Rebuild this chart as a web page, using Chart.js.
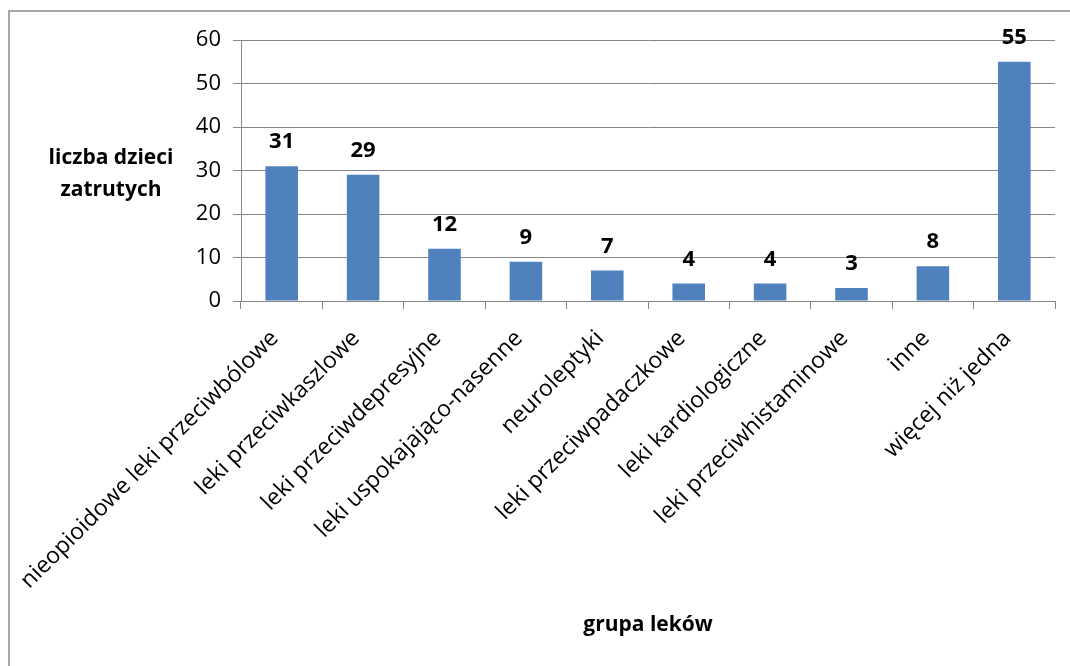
<!DOCTYPE html>
<html lang="pl">
<head>
<meta charset="utf-8">
<title>Zatrucia lekami u dzieci</title>
<script src="https://cdn.jsdelivr.net/npm/chart.js@4.4.1/dist/chart.umd.min.js"></script>
<style>
  html, body { margin: 0; padding: 0; background: #ffffff; }
  #wrap { position: relative; width: 1070px; height: 666px; overflow: hidden; }
  #frame { position: absolute; left: 8px; top: 10px; width: 1100px; height: 700px;
           border-left: 2px solid #a6a6a6; border-top: 2px solid #a6a6a6; box-sizing: border-box; }
  canvas { position: absolute; left: 0; top: 0; }
</style>
</head>
<body>
<div id="wrap">
  <div id="frame"></div>
  <canvas id="chart" width="1070" height="666"></canvas>
</div>
<script>
// Grupy leków i liczba zatrutych dzieci w każdej z nich
const categories = [
  'nieopioidowe leki przeciwbólowe',
  'leki przeciwkaszlowe',
  'leki przeciwdepresyjne',
  'leki uspokajająco-nasenne',
  'neuroleptyki',
  'leki przeciwpadaczkowe',
  'leki kardiologiczne',
  'leki przeciwhistaminowe',
  'inne',
  'więcej niż jedna'
];
const childCounts = [31, 29, 12, 9, 7, 4, 4, 3, 8, 55];
const yTickValues = [0, 10, 20, 30, 40, 50, 60];
const yTitleLines = ['liczba dzieci', 'zatrutych'];
const xTitle = 'grupa leków';

const FONT = "'Open Sans', 'Liberation Sans', sans-serif";
const GRID = '#868686';

// Wartości nad słupkami
const valueLabels = {
  id: 'valueLabels',
  afterDatasetsDraw(chart) {
    const ctx = chart.ctx;
    const meta = chart.getDatasetMeta(0);
    ctx.save();
    ctx.font = 'bold 22px ' + FONT;
    ctx.fillStyle = '#000000';
    ctx.textAlign = 'center';
    ctx.textBaseline = 'middle';
    meta.data.forEach((bar, i) => {
      ctx.fillText(String(chart.data.datasets[0].data[i]), bar.x, bar.y - 24);
    });
    ctx.restore();
  }
};

// Poziomy tytuł osi Y po lewej stronie
const yAxisTitle = {
  id: 'yAxisTitle',
  afterDraw(chart) {
    const ctx = chart.ctx;
    const area = chart.chartArea;
    ctx.save();
    ctx.font = 'bold 21px ' + FONT;
    ctx.fillStyle = '#000000';
    ctx.textAlign = 'center';
    ctx.textBaseline = 'middle';
    const cx = area.left - 130;
    const y0 = area.top + 118;
    yTitleLines.forEach((line, i) => ctx.fillText(line, cx, y0 + i * 32));
    ctx.restore();
  }
};

new Chart(document.getElementById('chart'), {
  type: 'bar',
  data: {
    labels: categories,
    datasets: [{
      data: childCounts,
      backgroundColor: '#4f81bd',
      borderWidth: 0,
      barPercentage: 0.4,
      categoryPercentage: 1.0
    }]
  },
  options: {
    responsive: false,
    animation: false,
    events: [],
    layout: { padding: { left: 0, right: 15, top: 40, bottom: 28 } },
    plugins: {
      legend: { display: false },
      tooltip: { enabled: false }
    },
    scales: {
      x: {
        offset: true,
        grid: {
          offset: true,
          drawOnChartArea: false,
          drawTicks: true,
          tickLength: 8,
          color: GRID,
          lineWidth: 1
        },
        border: { color: GRID, width: 1 },
        ticks: {
          autoSkip: false,
          maxRotation: 45,
          minRotation: 45,
          padding: 16,
          labelOffset: -7,
          color: '#000000',
          font: { family: FONT, size: 23 }
        },
        title: {
          display: true,
          text: xTitle,
          color: '#000000',
          padding: { top: 0, bottom: 0 },
          font: { family: FONT, size: 21, weight: 'bold' }
        },
        afterFit(scale) { scale.height = 337; }
      },
      y: {
        min: 0,
        max: 60,
        afterBuildTicks(scale) { scale.ticks = yTickValues.map(v => ({ value: v })); },
        grid: {
          color: GRID,
          lineWidth: 1,
          drawTicks: true,
          tickLength: 8
        },
        border: { color: GRID, width: 1 },
        ticks: {
          padding: 12,
          color: '#000000',
          font: { family: FONT, size: 22 }
        },
        afterFit(scale) { scale.width = 241; }
      }
    }
  },
  plugins: [valueLabels, yAxisTitle]
});
</script>
</body>
</html>
